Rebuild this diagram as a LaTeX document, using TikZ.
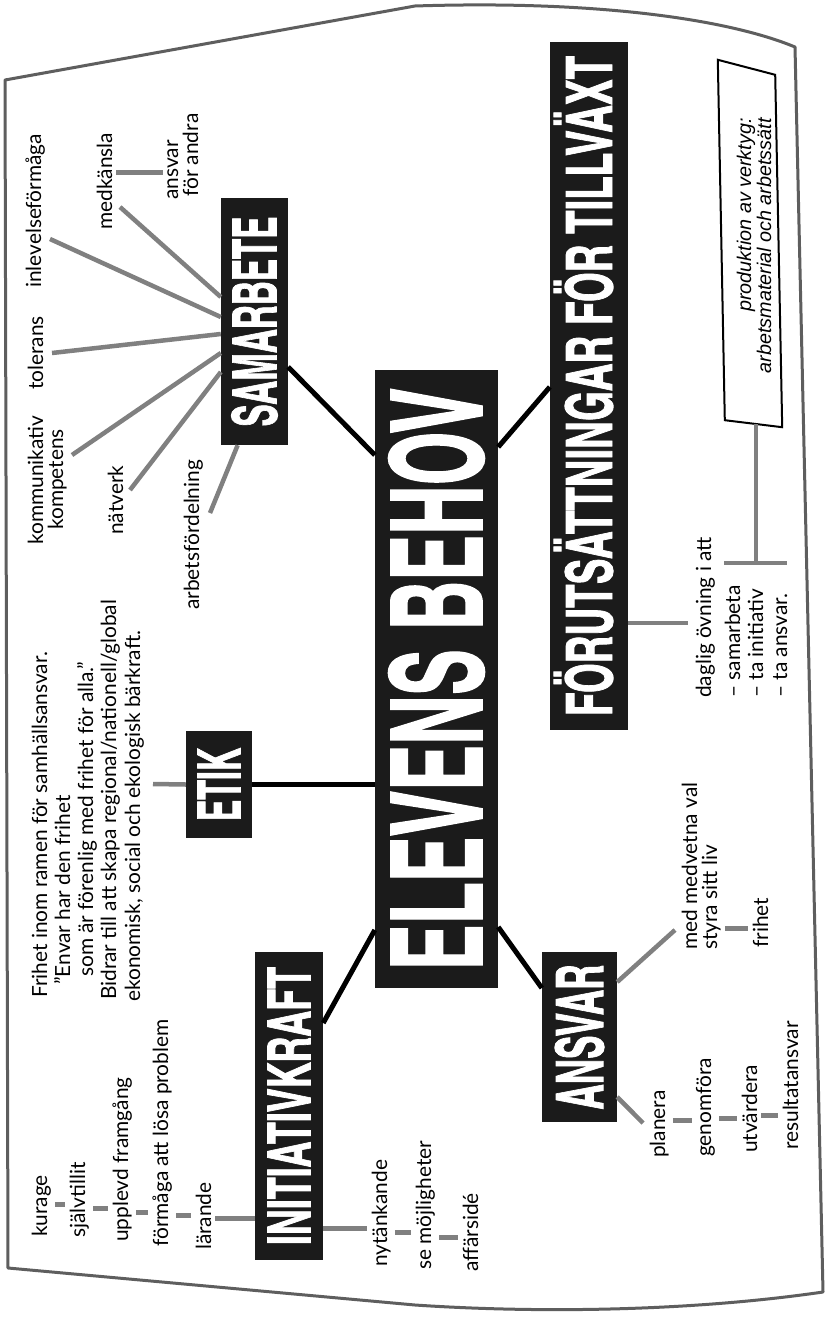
\documentclass[tikz,border=0pt]{standalone}
\usepackage{fontspec}
\usepackage{graphicx}
\setmainfont{Lato}
\newfontfamily\titlefont{texgyreheroscn-bold.otf}[FakeBold=1.5]
\newfontfamily\prodfont{Liberation Sans}
\usetikzlibrary{calc}
\definecolor{lgray}{HTML}{808080}
\definecolor{boxblack}{HTML}{1B1B1B}
\definecolor{framec}{HTML}{5E5E5E}
\newlength\reflen
\settowidth\reflen{\fontsize{10pt}{12pt}\selectfont Bidrar till att skapa regional/nationell/global}
\pgfmathsetmacro\bsize{4000/\reflen}
\newlength\refilen
\settowidth\refilen{\prodfont\itshape\fontsize{10pt}{12pt}\selectfont arbetsmaterial och arbetssätt}
\pgfmathsetmacro\isize{2550/\refilen}
\newcommand\ttl[3]{\rotatebox{90}{\resizebox{#1pt}{#2pt}{\titlefont\raisebox{0pt}[\fontcharht\font`E][0pt]{#3}}}}
\tikzset{
  tbox/.style={fill=boxblack, inner sep=0pt, text=white},
  lbl/.style={rotate=90, anchor=base west, inner sep=0pt, font=\fontsize{\bsize pt}{\bsize pt}\selectfont},
  plbl/.style={rotate=90, anchor=base east, inner sep=0pt, font=\prodfont\itshape\fontsize{\isize pt}{\isize pt}\selectfont},
  gline/.style={draw=lgray, line width=4.5pt},
  gbar/.style={draw=lgray, line width=5pt, shorten <=4pt, shorten >=4pt},
  bline/.style={draw=black, line width=5pt},
}
\begin{document}
\begin{tikzpicture}[x=1pt, y=-1pt]
\useasboundingbox (0,0) rectangle (829,1319);
\fill[white] (0,0) rectangle (829,1319);
% frame
\draw[framec, line width=3pt, line join=round]
  (5,80) -- (415,6) .. controls (600,0) and (730,20) .. (795,47)
  -- (823,1292) .. controls (700,1310) and (550,1314) .. (415,1305)
  -- (8,1268) -- cycle;

% category boxes
\node[tbox, minimum width=123pt, minimum height=618pt] (ev) at (436.5,679) {\ttl{582}{91}{ELEVENS BEHOV}};
\node[tbox, minimum width=67pt, minimum height=247pt] (sam) at (254.5,321.5) {\ttl{210}{44}{SAMARBETE}};
\node[tbox, minimum width=66pt, minimum height=107pt] (etik) at (219,784.5) {\ttl{73}{43}{ETIK}};
\node[tbox, minimum width=68pt, minimum height=308pt] (init) at (289,1106) {\ttl{278}{43}{INITIATIVKRAFT}};
\node[tbox, minimum width=75pt, minimum height=170pt] (ans) at (579.5,1037) {\ttl{145}{47}{ANSVAR}};
\node[tbox, minimum width=78pt, minimum height=688pt] (forut) at (589,386) {\ttl{660}{46}{FÖRUTSÄTTNINGAR FÖR TILLVÄXT}};

% black connectors
\draw[bline] (ev.west |- 0,455) -- (sam.east |- 0,367);
\draw[bline] (ev.east |- 0,447) -- (forut.west |- 0,387);
\draw[bline] (ev.west |- 0,784) -- (etik.east |- 0,784);
\draw[bline] (ev.west |- 0,930) -- (init.east |- 0,1023);
\draw[bline] (ev.east |- 0,927) -- (ans.west |- 0,988);

% SAMARBETE labels
\node[lbl] (inl) at (41,288) {inlevelseförmåga};
\node[lbl] (med) at (112,230) {medkänsla};
\node[lbl] (ansv) at (178,200) {ansvar};
\node[lbl] (fan) at (198,197) {för andra};
\node[lbl] (tol) at (43,390) {tolerans};
\node[lbl] (kom1) at (43,545) {kommunikativ};
\node[lbl] (kom2) at (63,530) {kompetens};
\node[lbl] (nat) at (123,535) {nätverk};
\node[lbl] (arb) at (199,610) {arbetsfördelning};
\coordinate (e-inl) at (50,239);
\coordinate (e-med) at (120,207);
\coordinate (e-tol) at (52,353);
\coordinate (e-kom) at (72,455);
\coordinate (e-nat) at (130,490);
\coordinate (e-arb) at (210,513);
\draw[gline] (sam.west |- 0,317) -- (e-inl);
\draw[gline] (sam.west |- 0,297) -- (e-med);
\draw[gline] (sam.west |- 0,334) -- (e-tol);
\draw[gline] (sam.west |- 0,353) -- (e-kom);
\draw[gline] (sam.west |- 0,372) -- (e-nat);
\draw[gline] ($(sam.south west)!0.25!(sam.south east)$) -- (e-arb);
\draw[gbar] (med.south |- 0,172) -- (ansv.north |- 0,172);

% ETIK text
\coordinate (e-etk) at (153,784);
\draw[gline] (etik.west) -- (e-etk);
\node[lbl] (et1) at (47,998) {Frihet inom ramen för samhällsansvar.};
\node[lbl] (et2) at (70,985) {”Envar har den frihet};
\node[lbl] (et3) at (93,977) {som är förenlig med frihet för alla.”};
\node[lbl] (et4) at (116,1000) {Bidrar till att skapa regional/nationell/global};
\node[lbl] (et5) at (140,1002) {ekonomisk, social och ekologisk bärkraft.};

% INITIATIVKRAFT list
\node[lbl] (kur) at (47,1237) {kurage};
\node[lbl] (sja) at (85,1238) {självtillit};
\node[lbl] (upp) at (128,1242) {upplevd framgång};
\node[lbl] (frm) at (168,1247) {förmåga att lösa problem};
\node[lbl] (lar) at (211,1250) {lärande};
\node[lbl] (nyt) at (387,1267) {nytänkande};
\node[lbl] (sem) at (431,1270) {se möjligheter};
\node[lbl] (aff) at (478,1272) {affärsidé};
\draw[gbar] (kur.south |- 0,1204) -- (sja.north |- 0,1204);
\draw[gbar] (sja.south |- 0,1208) -- (upp.north |- 0,1208);
\draw[gbar] (upp.south |- 0,1212) -- (frm.north |- 0,1212);
\draw[gbar] (frm.south |- 0,1215) -- (lar.north |- 0,1215);
\draw[gbar, shorten >=0pt] (lar.south |- 0,1218) -- (init.west |- 0,1218);
\draw[gbar, shorten <=0pt] (init.east |- 0,1228) -- (nyt.north |- 0,1228);
\draw[gbar] (nyt.south |- 0,1232) -- (sem.north |- 0,1232);
\draw[gbar] (sem.south |- 0,1237) -- (aff.north |- 0,1237);

% ANSVAR labels
\node[lbl] (mmv) at (697,950) {med medvetna val};
\node[lbl] (sty) at (717,950) {styra sitt liv};
\node[lbl] (fri) at (768,948) {frihet};
\node[lbl] (pla) at (665,1158) {planera};
\node[lbl] (gen) at (711,1157) {genomföra};
\node[lbl] (utv) at (757,1153) {utvärdera};
\node[lbl] (res) at (798,1150) {resultatansvar};
\coordinate (e-mmv) at (675,930);
\coordinate (e-pla) at (643,1123);
\draw[gline] (ans.east |- 0,982) -- (e-mmv);
\draw[gline] (ans.east |- 0,1097) -- (e-pla);
\draw[gbar] (sty.south |- 0,928) -- (fri.north |- 0,928);
\draw[gbar] (pla.south |- 0,1120) -- (gen.north |- 0,1120);
\draw[gbar] (gen.south |- 0,1118) -- (utv.north |- 0,1118);
\draw[gbar] (utv.south |- 0,1115) -- (res.north |- 0,1115);

% FÖRUTSÄTTNINGAR labels
\node[lbl] (dag) at (711,698) {daglig övning i att};
\node[lbl] (fs1) at (740,698) {– samarbeta};
\node[lbl] (fs2) at (763,698) {– ta initiativ};
\node[lbl] (fs3) at (787,698) {– ta ansvar.};
\coordinate (e-dag) at (688,623);
\draw[gline] (forut.east |- 0,623) -- (e-dag);
\node[minimum width=60pt, minimum height=358pt, inner sep=0pt] (prod) at (750,244) {};
\draw[black, line width=2pt, line join=miter]
  ($(prod.north west)+(-2,-5)$) -- ($(prod.north east)+(-5,10)$)
  -- ($(prod.south east)+(2,4)$) -- ($(prod.south west)+(5,-3)$) -- cycle;
\node[plbl] (pr1) at (751,118) {produktion av verktyg:};
\node[plbl] (pr2) at (771,118) {arbetsmaterial och arbetssätt};
\draw[gline] ($(prod.south)+(6,1)$) -- ($(prod.south |- 0,563)+(6,0)$);
\draw[gline] (fs1.north |- 0,563) -- (fs3.south |- 0,563);
\end{tikzpicture}
\end{document}
